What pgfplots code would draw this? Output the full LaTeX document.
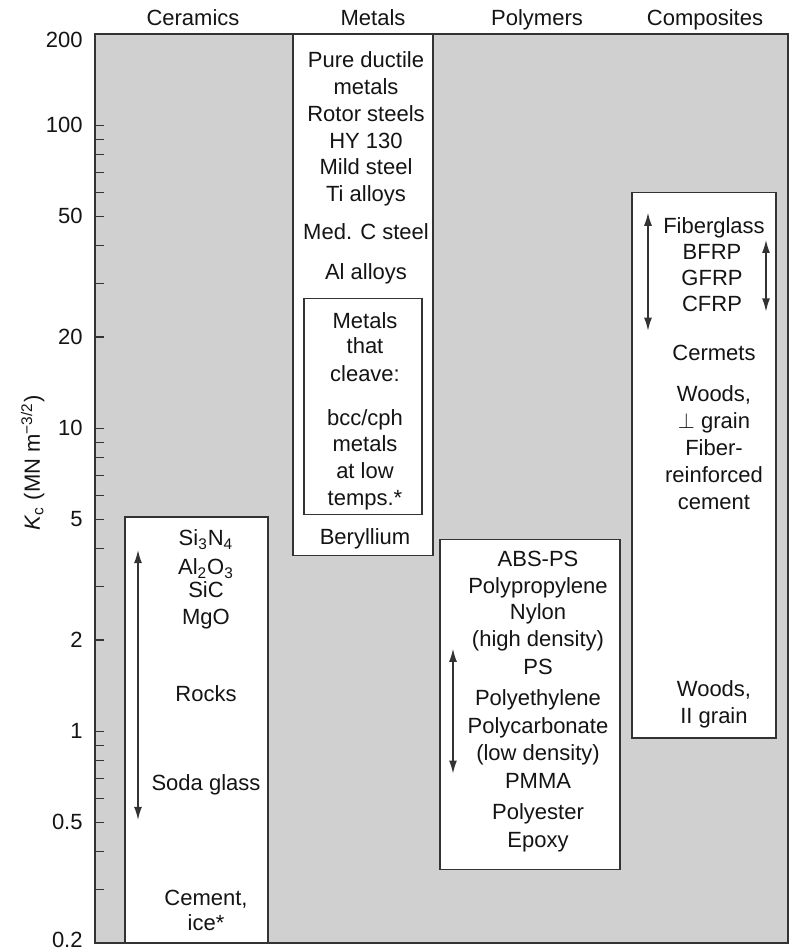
\documentclass[border=0pt]{standalone}
\usepackage{fontspec}
\setmainfont{Liberation Sans}
\usepackage{pgfplots}
\pgfplotsset{compat=1.18}
\usetikzlibrary{arrows.meta}
\definecolor{bg}{gray}{0.815}
\definecolor{frame}{gray}{0.2}
\definecolor{ink}{gray}{0.08}
\newcommand{\lab}[3]{\node[lbl] at ({(#1-95)*0.5pt},{(935-#2)*0.5pt}) {#3};}
\begin{document}
\begin{tikzpicture}[lbl/.style={font=\fontsize{11}{13}\selectfont, text=ink, inner sep=0pt, anchor=base}]
\begin{axis}[
  scale only axis, width=346.5pt, height=454.5pt,
  xmin=95, xmax=788, ymode=log, ymin=0.2, ymax=200,
  axis background/.style={fill=bg},
  axis line style={draw=frame, line width=0.8pt},
  xtick={193,373,537,705},
  xticklabels={Ceramics,Metals,Polymers,Composites},
  xticklabel pos=right,
  xticklabel style={anchor=base, yshift=4pt, font=\fontsize{11}{13}\selectfont, text=ink},
  major x tick style={draw=none},
  ytick={0.2,0.5,1,2,5,10,20,50,100,200},
  yticklabels={\raisebox{1.5pt}[\height][\depth]{0.2},0.5,1,2,5,10,20,50,100,\raisebox{-3pt}[\height][\depth]{200}},
  minor ytick={0.3,0.4,0.6,0.7,0.8,0.9,3,4,6,7,8,9,30,40,60,70,80,90},
  ytick pos=left, tick align=inside,
  major tick length=4.7pt, minor tick length=4.7pt,
  tick style={draw=frame, line width=0.55pt},
  yticklabel style={font=\fontsize{11}{13}\selectfont, text=ink, inner sep=0pt, xshift=-6pt},
  /pgf/number format/assume math mode=true,
  clip=false,
]
% category boxes
\addplot[draw=frame, fill=white, line width=0.75pt] coordinates {(125,0.2) (268,0.2) (268,5.1) (125,5.1)} -- cycle;
\addplot[draw=frame, fill=white, line width=0.75pt] coordinates {(293,3.8) (433,3.8) (433,200) (293,200)} -- cycle;
\addplot[draw=frame, fill=white, line width=0.75pt] coordinates {(304,5.2) (422,5.2) (422,26.8) (304,26.8)} -- cycle;
\addplot[draw=frame, fill=white, line width=0.75pt] coordinates {(440,0.35) (620,0.35) (620,4.3) (440,4.3)} -- cycle;
\addplot[draw=frame, fill=white, line width=0.75pt] coordinates {(632,0.95) (776,0.95) (776,60) (632,60)} -- cycle;
% range arrows
\addplot[draw=frame, line width=0.65pt, {Latex[length=6.5pt,width=4pt]}-{Latex[length=6.5pt,width=4pt]}] coordinates {(138,3.96) (138,0.51)};
\addplot[draw=frame, line width=0.65pt, {Latex[length=6.5pt,width=4pt]}-{Latex[length=6.5pt,width=4pt]}] coordinates {(453,1.87) (453,0.725)};
\addplot[draw=frame, line width=0.65pt, {Latex[length=6.5pt,width=4pt]}-{Latex[length=6.5pt,width=4pt]}] coordinates {(648,51.4) (648,21.0)};
\addplot[draw=frame, line width=0.65pt, {Latex[length=6.5pt,width=4pt]}-{Latex[length=6.5pt,width=4pt]}] coordinates {(766,41.8) (766,24.3)};
\end{axis}
% y label
\node[font=\fontsize{11}{13}\selectfont, text=ink, inner sep=0pt, anchor=base, rotate=90] at (-27.5pt,240pt) {\textit{K}\textsubscript{c} (MN m\textsuperscript{−3/2})};
% Ceramics
\lab{206}{538}{Si\textsubscript{3}N\textsubscript{4}}
\lab{206}{567}{Al\textsubscript{2}O\textsubscript{3}}
\lab{206}{590}{SiC}
\lab{206}{617}{MgO}
\lab{206}{693}{Rocks}
\lab{206}{783}{Soda glass}
\lab{206}{897}{Cement,}
\lab{206}{923}{ice*}
% Metals
\lab{366}{60}{Pure ductile}
\lab{366}{87}{metals}
\lab{366}{114}{Rotor steels}
\lab{366}{141}{HY 130}
\lab{366}{167}{Mild steel}
\lab{366}{194}{Ti alloys}
\lab{366}{232}{Med. C steel}
\lab{366}{272}{Al alloys}
\lab{365}{321}{Metals}
\lab{365}{346}{that}
\lab{365}{374}{cleave:}
\lab{365}{418}{bcc/cph}
\lab{365}{444}{metals}
\lab{365}{471}{at low}
\lab{365}{498}{temps.*}
\lab{365}{537}{Beryllium}
% Polymers
\lab{538}{559}{ABS-PS}
\lab{538}{586}{Polypropylene}
\lab{538}{612}{Nylon}
\lab{538}{639}{(high density)}
\lab{538}{667}{PS}
\lab{538}{698}{Polyethylene}
\lab{538}{726}{Polycarbonate}
\lab{538}{752}{(low density)}
\lab{538}{780}{PMMA}
\lab{538}{812}{Polyester}
\lab{538}{839}{Epoxy}
% Composites
\lab{714}{226}{Fiberglass}
\lab{712}{252}{BFRP}
\lab{712}{278}{GFRP}
\lab{712}{304}{CFRP}
\lab{714}{353}{Cermets}
\lab{714}{394}{Woods,}
\lab{714}{421}{$\perp$ grain}
\lab{714}{448}{Fiber-}
\lab{714}{475}{reinforced}
\lab{714}{502}{cement}
\lab{714}{689}{Woods,}
\lab{714}{716}{II grain}
\pgfresetboundingbox
\path (-47.5pt,-3.5pt) rectangle (351.5pt,471.5pt);
\end{tikzpicture}
\end{document}
